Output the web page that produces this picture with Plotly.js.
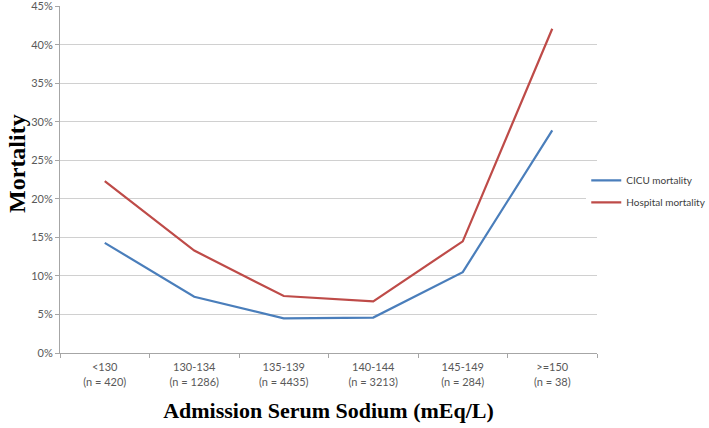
<!DOCTYPE html>
<html><head><meta charset="utf-8">
<script src="https://cdn.plot.ly/plotly-3.0.1.min.js"></script>
<style>html,body{margin:0;padding:0;background:#fff}#chart{width:709px;height:428px}</style>
</head><body><div id="chart"></div>
<script>
const categories = ["<130", "130-134", "135-139", "140-144", "145-149", ">=150"];
const counts = ["n = 420", "n = 1286", "n = 4435", "n = 3213", "n = 284", "n = 38"];
const cicuMortality = [0.143, 0.073, 0.045, 0.046, 0.105, 0.289];
const hospitalMortality = [0.223, 0.133, 0.074, 0.067, 0.145, 0.421];
const yTicks = [0, 0.05, 0.10, 0.15, 0.20, 0.25, 0.30, 0.35, 0.40, 0.45];

const esc = s => s.replace(/</g, "&lt;").replace(/>/g, "&gt;");
const tickText = categories.map((c, i) => esc(c) + "<br>(" + counts[i] + ")");

const traces = [
  {x: categories, y: cicuMortality, type: "scatter", mode: "lines", name: "CICU mortality",
   legendgroup: "a", line: {color: "#4a7ebb", width: 2.2}},
  {x: categories, y: hospitalMortality, type: "scatter", mode: "lines", name: "Hospital mortality",
   legendgroup: "b", line: {color: "#be4b48", width: 2.2}}
];

const serif = "Liberation Serif, DejaVu Serif, serif";
const layout = {
  width: 709, height: 428,
  margin: {l: 60, r: 112, t: 6, b: 75, autoexpand: false},
  paper_bgcolor: "#fff", plot_bgcolor: "#fff",
  font: {family: "Lato, Open Sans, sans-serif", size: 11, color: "#595959"},
  showlegend: true,
  legend: {x: 0.98, y: 0.466, xanchor: "left", yanchor: "middle",
    traceorder: "grouped", tracegroupgap: 3,
    font: {size: 10, color: "#404040"}, itemwidth: 30},
  xaxis: {
    type: "category", categoryorder: "array", categoryarray: categories,
    range: [-0.5, 5.5],
    tickvals: categories, ticktext: tickText,
    tickson: "boundaries", ticks: "outside", ticklen: 4, tickcolor: "#a6a6a6",
    ticklabelstandoff: 4,
    showline: true, linecolor: "#a6a6a6", linewidth: 1,
    showgrid: false, zeroline: false,
    tickfont: {size: 11, color: "#595959"},
    title: {text: "Admission Serum Sodium (mEq/L)", standoff: 16,
      font: {family: serif, size: 22, color: "#000", weight: "bold"}}
  },
  yaxis: {
    range: [0, 0.4505], tickvals: yTicks, tickformat: ".0%",
    ticklabeloverflow: "allow",
    ticks: "outside", ticklen: 4, tickcolor: "#a6a6a6",
    showline: true, linecolor: "#a6a6a6", linewidth: 1,
    showgrid: true, gridcolor: "#d0d0d0", gridwidth: 1, zeroline: false,
    tickfont: {size: 11, color: "#595959"}
  },
  annotations: [{
    text: "Mortality", xref: "paper", yref: "paper", x: -0.08, y: 0.545,
    xanchor: "center", yanchor: "middle", textangle: -90, showarrow: false,
    font: {family: serif, size: 24, color: "#000", weight: "bold"}
  }]
};

Plotly.newPlot("chart", traces, layout, {displayModeBar: false, staticPlot: true});
</script>
</body></html>
